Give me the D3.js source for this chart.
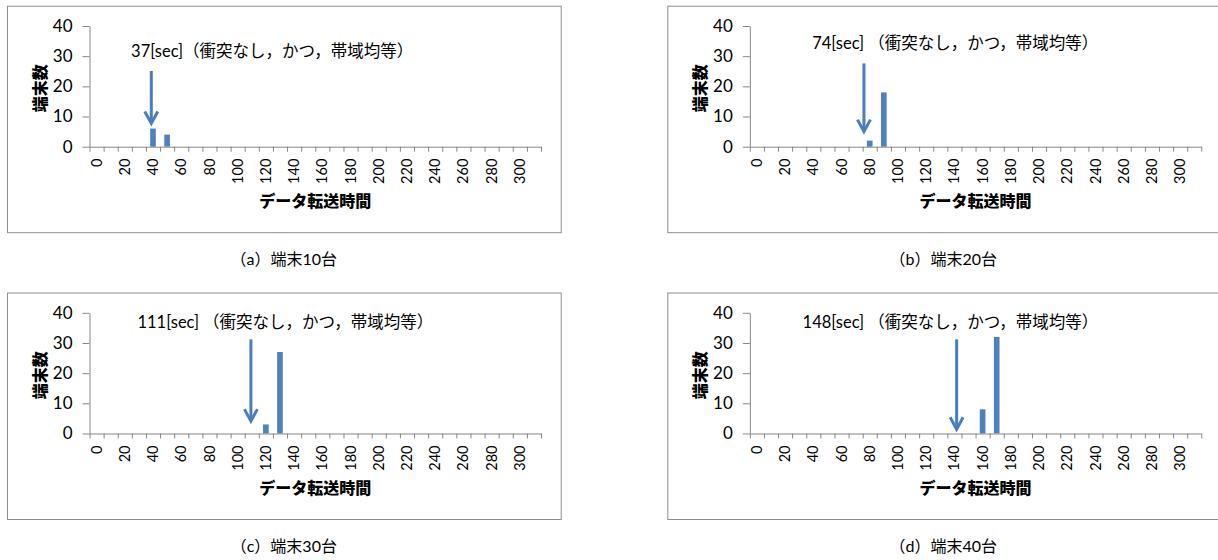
<!DOCTYPE html>
<html>
<head>
<meta charset="utf-8">
<script src="https://cdn.jsdelivr.net/npm/d3@7/dist/d3.min.js"></script>
<style>
  body { margin: 0; background: #fff; }
  svg text { fill: #000; }
</style>
</head>
<body>
<div id="chart"></div>
<script>
// transfer time categories [sec]
const times = [0, 10, 20, 30, 40, 50, 60, 70, 80, 90, 100, 110, 120, 130, 140, 150,
               160, 170, 180, 190, 200, 210, 220, 230, 240, 250, 260, 270, 280, 290, 300, 310];

// number of terminals per time category
const counts10 = [0,0,0,0,6,4,0,0,0,0,0,0,0,0,0,0, 0,0,0,0,0,0,0,0,0,0,0,0,0,0,0,0];
const counts20 = [0,0,0,0,0,0,0,0,2,18,0,0,0,0,0,0, 0,0,0,0,0,0,0,0,0,0,0,0,0,0,0,0];
const counts30 = [0,0,0,0,0,0,0,0,0,0,0,0,3,27,0,0, 0,0,0,0,0,0,0,0,0,0,0,0,0,0,0,0];
const counts40 = [0,0,0,0,0,0,0,0,0,0,0,0,0,0,0,0, 8,32,0,0,0,0,0,0,0,0,0,0,0,0,0,0];

const yTicks = [0, 10, 20, 30, 40];
const captions = ["（a）端末10台", "（b）端末20台", "（c）端末30台", "（d）端末40台"];
const notes = ["37[sec]（衝突なし，かつ，帯域均等）", "74[sec]（衝突なし，かつ，帯域均等）",
               "111[sec]（衝突なし，かつ，帯域均等）", "148[sec]（衝突なし，かつ，帯域均等）"];
// arrow: time position, top value, tip value
const arrowTime = [38.8, 75.9, 109.4, 141.6];
const arrowTop  = [25.1, 27.6, 31.2, 31.2];
const arrowTip  = [7.7, 5.0, 4.1, 1.4];

const xTitle = "データ転送時間";
const yTitle = "端末数";

const W = 1218, H = 560;
const latin = "Lato, 'Noto Sans CJK JP', sans-serif";
const cjk = "'Noto Sans CJK JP', sans-serif";
const axisColor = "#878787";
const barColor = "#4f81bd";
const arrowColor = "#4a7ebb";

const svg = d3.select("#chart").append("svg")
  .attr("width", W).attr("height", H)
  .attr("viewBox", `0 0 ${W} ${H}`);

/*------ panel frames ------*/
const frames = [
  {x: 7,     y: 5.7,   w: 553.7, h: 226.5, noteX: 24.5, noteY: 31.5, gap: 0},
  {x: 667.3, y: 5.7,   w: 552,   h: 226.5, noteX: 39.2, noteY: 34.2, gap: 4},
  {x: 7,     y: 292.5, w: 553.7, h: 226.5, noteX: 29,   noteY: 36.8, gap: 4},
  {x: 667.3, y: 292.5, w: 552,   h: 226.5, noteX: 32.4, noteY: 37,   gap: 4}
];
const series = [counts10, counts20, counts30, counts40];

frames.forEach((f, i) => drawPanel(f, series[i], i));

function drawPanel(f, values, i) {
  const g = svg.append("g");

  g.append("rect")
    .attr("x", f.x + 0.5).attr("y", f.y + 0.5)
    .attr("width", f.w).attr("height", f.h)
    .attr("fill", "none").attr("stroke", "#8e8e8e").attr("stroke-width", 1);

  const x0 = f.x + 82.5, x1 = x0 + 451.5;
  const yTop = f.y + 20.3, yZero = f.y + 141;

  const xb = d3.scaleBand().domain(times).range([x0, x1])
    .paddingInner(0.6).paddingOuter(0.3);
  const xt = d3.scaleLinear().domain([times[0] - 5, times[times.length - 1] + 5]).range([x0, x1]);
  const y = d3.scaleLinear().domain([0, 40]).range([yZero, yTop]);

  // bars
  g.append("g").selectAll("rect")
    .data(times.map((t, k) => ({t, v: values[k]})).filter(d => d.v > 0))
    .join("rect")
    .attr("x", d => xb(d.t))
    .attr("width", xb.bandwidth())
    .attr("y", d => y(d.v))
    .attr("height", d => yZero - y(d.v))
    .attr("fill", barColor);

  // y axis
  const ya = g.append("g")
    .attr("transform", `translate(${x0},0)`)
    .call(d3.axisLeft(y).tickValues(yTicks).tickSize(7).tickSizeOuter(0).tickPadding(10));
  ya.select(".domain").attr("stroke", axisColor);
  ya.selectAll(".tick line").attr("stroke", axisColor);
  ya.selectAll(".tick text").attr("font-family", latin).attr("font-size", 17).attr("fill", "#000");

  // x axis, ticks on category boundaries
  const bounds = times.map(t => t - 5).concat([times[times.length - 1] + 5]);
  const xa = g.append("g")
    .attr("transform", `translate(0,${yZero})`)
    .call(d3.axisBottom(xt).tickValues(bounds).tickFormat("").tickSize(5).tickSizeOuter(0));
  xa.select(".domain").attr("stroke", axisColor);
  xa.selectAll(".tick line").attr("stroke", axisColor);

  // x tick labels, every other category, rotated
  g.append("g").selectAll("text")
    .data(times.filter((t, k) => k % 2 === 0))
    .join("text")
    .attr("transform", d => `translate(${xb(d) + xb.bandwidth() / 2},${yZero + 12}) rotate(-90)`)
    .attr("text-anchor", "end")
    .attr("dy", "0.35em")
    .attr("font-family", latin)
    .attr("font-size", 14.5)
    .text(d => d);

  // axis titles
  g.append("text")
    .attr("x", (x0 + x1) / 2).attr("y", f.y + 196)
    .attr("text-anchor", "middle").attr("dy", "0.35em")
    .attr("font-family", cjk).attr("font-weight", 900).attr("font-size", 16)
    .text(xTitle);

  g.append("text")
    .attr("transform", `translate(${x0 - 49},${(yTop + yZero) / 2 + 2}) rotate(-90)`)
    .attr("text-anchor", "middle").attr("dy", "0.35em")
    .attr("font-family", cjk).attr("font-weight", 900).attr("font-size", 16)
    .text(yTitle);

  // annotation text
  const note = g.append("text")
    .attr("x", xt(f.noteX)).attr("y", y(f.noteY))
    .attr("dy", "0.35em")
    .attr("font-family", latin).attr("font-size", 16.5);
  const cut = notes[i].indexOf("（");
  note.append("tspan").text(notes[i].slice(0, cut));
  note.append("tspan").attr("dx", f.gap).text(notes[i].slice(cut));

  // arrow
  const ax = xt(arrowTime[i]);
  const tipY = y(arrowTip[i]);
  g.append("line")
    .attr("x1", ax).attr("x2", ax)
    .attr("y1", y(arrowTop[i])).attr("y2", tipY - 1.5)
    .attr("stroke", arrowColor).attr("stroke-width", 3);
  g.append("path")
    .attr("d", `M${ax - 6.5},${tipY - 12}L${ax},${tipY}L${ax + 6.5},${tipY - 12}`)
    .attr("fill", "none").attr("stroke", arrowColor).attr("stroke-width", 3)
    .attr("stroke-linejoin", "miter");

  // caption under the frame
  g.append("text")
    .attr("x", f.x + f.w / 2).attr("y", f.y + f.h + 27)
    .attr("text-anchor", "middle").attr("dy", "0.35em")
    .attr("font-family", latin).attr("font-size", 16)
    .text(captions[i]);
}
</script>
</body>
</html>
